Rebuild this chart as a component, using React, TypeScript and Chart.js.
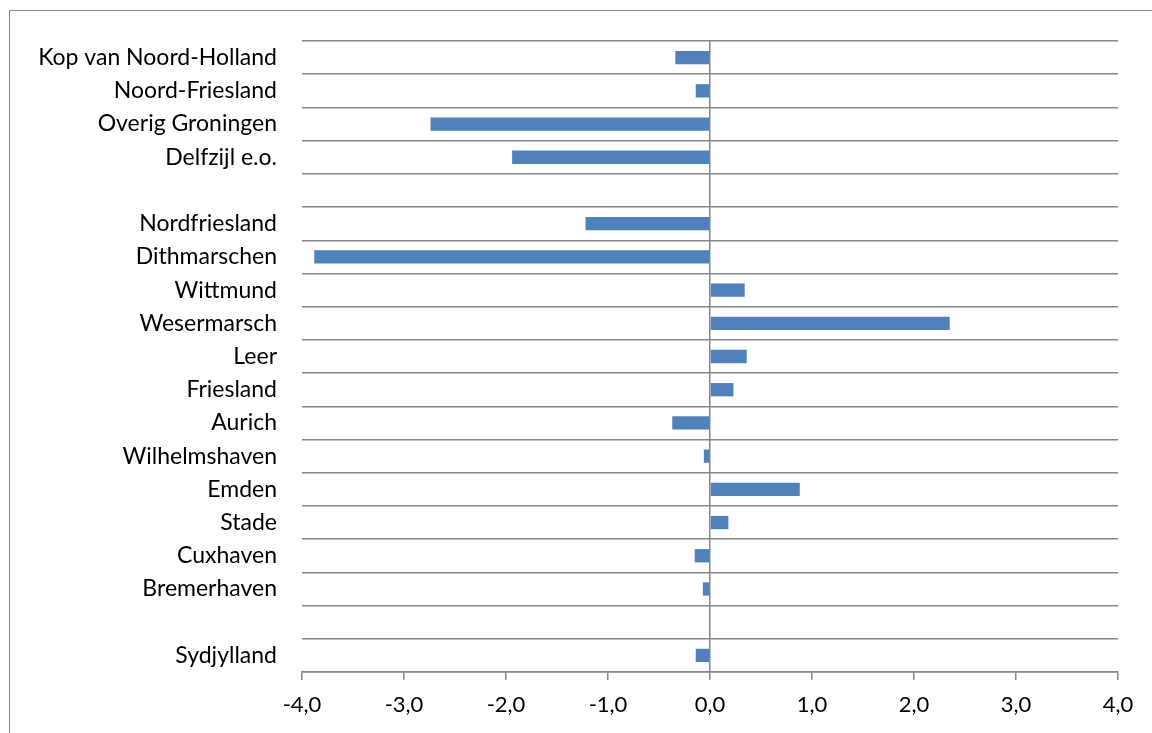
import React, { useEffect, useRef } from "react";
import { Chart, registerables } from "chart.js";

Chart.register(...registerables);

const categories = [
  "Kop van Noord-Holland",
  "Noord-Friesland",
  "Overig Groningen",
  "Delfzijl e.o.",
  "",
  "Nordfriesland",
  "Dithmarschen",
  "Wittmund",
  "Wesermarsch",
  "Leer",
  "Friesland",
  "Aurich",
  "Wilhelmshaven",
  "Emden",
  "Stade",
  "Cuxhaven",
  "Bremerhaven",
  "",
  "Sydjylland",
];

const values: (number | null)[] = [
  -0.34, -0.14, -2.74, -1.94, null, -1.22, -3.88, 0.34, 2.35, 0.36, 0.23,
  -0.37, -0.06, 0.88, 0.18, -0.15, -0.07, null, -0.14,
];

const xMin = -4;
const xMax = 4;

const GRID = "#878787";

export default function App() {
  const ref = useRef<HTMLCanvasElement | null>(null);

  useEffect(() => {
    if (!ref.current) return;
    const chart = new Chart(ref.current, {
      type: "bar",
      data: {
        labels: categories,
        datasets: [
          {
            data: values,
            backgroundColor: "#4F81BD",
            borderWidth: 0,
            categoryPercentage: 1,
            barPercentage: 0.4,
          },
        ],
      },
      options: {
        indexAxis: "y",
        animation: false,
        responsive: false,
        maintainAspectRatio: false,
        layout: { padding: { top: 41, right: 34, left: 0, bottom: 0 } },
        plugins: {
          legend: { display: false },
          tooltip: { enabled: false },
        },
        scales: {
          x: {
            min: xMin,
            max: xMax,
            ticks: {
              stepSize: 1,
              color: "#000",
              font: { family: "Lato", size: 22 },
              padding: 12,
              callback: (v: any) => Number(v).toFixed(1).replace(".", ","),
            },
            grid: {
              color: (ctx: any) =>
                ctx.tick && ctx.tick.value === 0 ? GRID : "rgba(0,0,0,0)",
              tickColor: GRID,
              tickLength: 8,
              lineWidth: 1.5,
            },
            border: { display: true, color: GRID, width: 1.5 },
            afterFit: (scale: any) => {
              scale.height = 733 - 672;
            },
          },
          y: {
            grid: {
              offset: true,
              color: GRID,
              lineWidth: 1.5,
              drawTicks: false,
            },
            border: { display: false },
            ticks: {
              color: "#000",
              font: { family: "Lato", size: 23 },
              padding: 25,
              autoSkip: false,
            },
            afterFit: (scale: any) => {
              scale.width = 302;
            },
          },
        },
      },
    });
    return () => chart.destroy();
  }, []);

  return (
    <div style={{ position: "absolute", left: 0, top: 0, width: 1152, height: 733, overflow: "hidden" }}>
      <div
        style={{
          position: "absolute",
          left: 9,
          top: 10,
          width: 1143,
          height: 723,
          boxSizing: "border-box",
          borderTop: "1px solid #8a8a8a",
          borderLeft: "1px solid #8a8a8a",
        }}
      />
      <canvas ref={ref} width={1152} height={733} style={{ position: "absolute", left: 0, top: 0 }} />
    </div>
  );
}
